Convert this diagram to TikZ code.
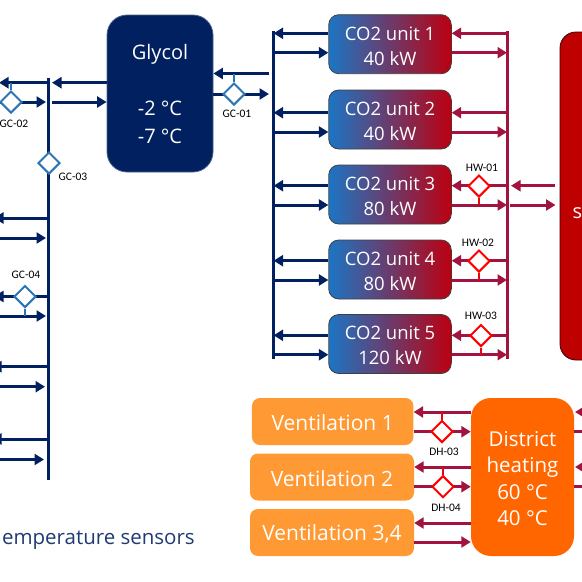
\documentclass[tikz,border=0pt]{standalone}
\usepackage{fontspec}
\setmainfont{Open Sans}
\newfontfamily\smallf{Carlito}
\usetikzlibrary{arrows.meta,shapes.geometric,calc}
\definecolor{navy}{HTML}{002060}
\definecolor{wine}{HTML}{A0143F}
\definecolor{sensorblue}{HTML}{2E75B6}
\definecolor{unitblue}{HTML}{1C75C4}
\definecolor{unitred}{HTML}{BC0010}
\definecolor{vent}{HTML}{FF9933}
\definecolor{dh}{HTML}{FF6600}
\definecolor{store}{HTML}{BE0000}
\definecolor{note}{HTML}{1F3B73}
\newcommand{\dn}[1]{\rule{0pt}{#1pt}}
\tikzset{
  px/.style={x=1pt,y=-1pt},
  box/.style={rectangle,rounded corners=#1,inner sep=0pt,align=center,text=white},
  unitbox/.style={box=10pt,draw=black!75,line width=.8pt,left color=unitblue,right color=unitred,
     minimum width=122.5pt,minimum height=59pt,font=\fontsize{18.5}{25}\selectfont},
  ventbox/.style={box=8pt,fill=vent,minimum height=47pt,font=\fontsize{21}{24}\selectfont},
  navyline/.style={draw=navy,line width=3pt},
  wineline/.style={draw=wine,line width=3pt},
  flow/.style={-{Triangle[length=9.5pt,width=11pt]}},
  sens/.style={diamond,draw=sensorblue,fill=white,line width=2pt,minimum width=22pt,minimum height=22pt,inner sep=0pt},
  hsens/.style={diamond,draw=red,fill=white,line width=2pt,minimum width=22pt,minimum height=22pt,inner sep=0pt},
  stubb/.style={draw=sensorblue,line width=1.2pt},
  stubr/.style={draw=red!70!wine,line width=1.2pt},
  tag/.style={font=\smallf\fontsize{11.5}{12}\selectfont,text=black,inner sep=0pt},
}
\begin{document}
\begin{tikzpicture}[px]
\useasboundingbox (0,0) rectangle (582,582);
\clip (0,0) rectangle (582,582);
% coordinates for free ends
\coordinate (bl) at (48.5,78);
\coordinate (bl2) at (48.5,479.5);
\coordinate (br) at (273,31);
\coordinate (br2) at (273,359);
\coordinate (wr) at (507.7,31);
\coordinate (wr2) at (507.7,359);
% boxes
\node[box=20pt,fill=navy,draw=navy!70!white,line width=.8pt,minimum width=106pt,minimum height=157pt,
   font=\fontsize{20}{28}\selectfont] (glycol) at (160,93.5) {Glycol\\\\-2 °C\\-7 °C};
\node[unitbox] (u1) at (390,44.2) {\dn{17}CO2 unit 1\\40 kW};
\node[unitbox] (u2) at (390,119.5) {\dn{17}CO2 unit 2\\40 kW};
\node[unitbox] (u3) at (390,194.5) {\dn{17}CO2 unit 3\\80 kW};
\node[unitbox] (u4) at (390,269.5) {\dn{17}CO2 unit 4\\80 kW};
\node[unitbox] (u5) at (390,344) {\dn{17}CO2 unit 5\\120 kW};
\node[box=16pt,fill=store,draw=black!70!store,line width=.8pt,minimum width=80pt,minimum height=328pt] (store) at (600,196) {};
\node[text=white,font=\fontsize{20}{24}\selectfont,anchor=base west,inner sep=0pt] (storetxt) at (572.3,218) {s};
\node[ventbox,minimum width=161.5pt] (v1) at (332.7,421.5) {\dn{19}Ventilation 1};
\node[ventbox,minimum width=164pt] (v2) at (332,477) {\dn{19}Ventilation 2};
\node[ventbox,minimum width=164pt] (v3) at (332,532.5) {\dn{19}Ventilation 3,4};
\node[box=20pt,fill=dh,minimum width=103pt,minimum height=158pt,font=\fontsize{20.5}{26.5}\selectfont] (dh) at (522.5,477)
  {\dn{18}District\\heating\\60 °C\\40 °C};
% navy headers
\draw[navyline] (bl) -- (bl2);
\draw[navyline] (br) -- (br2);
\draw[navyline,flow] (glycol.west |- 0,82.7) -- (52,82.7);
\draw[navyline,flow] (48.5,82.7) -- (-1,82.7);
\draw[navyline,flow] (0,102) -- (46,102);
\draw[navyline,flow] (52,102) -- (glycol.west |- 0,102);
\draw[navyline,flow] (48.5,218) -- (-6,218);
\draw[navyline,flow] (0,238) -- (46,238);
\draw[navyline,flow] (48.5,296.5) -- (-6,296.5);
\draw[navyline,flow] (0,316) -- (46,316);
\draw[navyline,flow] (48.5,366.7) -- (-8,366.7);
\draw[navyline,flow] (0,386.7) -- (45,386.7);
\draw[navyline,flow] (48.5,439) -- (-8,439);
\draw[navyline,flow] (0,459.5) -- (44,459.5);
\draw[navyline,flow] (269,73.5) -- (glycol.east |- 0,73.5);
\draw[navyline,flow] (glycol.east |- 0,94) -- (269,94);
% unit rows
\foreach \u/\a/\b in {u1/33.3/52.7,u2/112.7/132,u3/185.7/205,u4/260.7/280,u5/335.3/354.7}{
  \draw[navyline,flow] (\u.west |- 0,\a) -- (273.6,\a);
  \draw[navyline,flow] (273,\b) -- (\u.west |- 0,\b);
  \draw[wineline,flow] (507.7,\a) -- (\u.east |- 0,\a);
  \draw[wineline,flow] (\u.east |- 0,\b) -- (507,\b);
}
\draw[wineline] (wr) -- (wr2);
\draw[wineline,flow] (555,185.7) -- (511,185.7);
\draw[wineline,flow] (510,205) -- (555.5,205);
% ventilation rows
\foreach \v/\a/\b in {v1/412/431.7,v2/467/486.7,v3/523/542}{
  \draw[wineline,flow] (dh.west |- 0,\a) -- (\v.east |- 0,\a);
  \draw[wineline,flow] (\v.east |- 0,\b) -- (dh.west |- 0,\b);
}
\draw[wineline,flow] (590,412) -- (575,412);
\draw[wineline] (dh.east |- 0,431.7) -- (590,431.7);
\draw[wineline,flow] (590,467) -- (575,467);
\draw[wineline] (dh.east |- 0,486.7) -- (590,486.7);
% sensors
\node[sens] (gc1) at (234,94) {};
\node[sens] (gc2) at (11,102) {};
\node[sens] (gc3) at (49,163) {};
\node[sens] (gc4) at (25,296.5) {};
\node[hsens] (hw1) at (479,186) {};
\node[hsens] (hw2) at (479,261) {};
\node[hsens] (hw3) at (481,335.5) {};
\node[hsens] (dh3) at (442,431.5) {};
\node[hsens] (dh4) at (443,486.7) {};
\draw[stubb] (gc1.north) -- (gc1.north |- 0,74);
\draw[stubb] (gc2.north) -- (gc2.north |- 0,83);
\draw[stubb] (gc4.south) -- (gc4.south |- 0,316);
\draw[stubr] (hw1.south) -- (hw1.south |- 0,205);
\draw[stubr] (hw2.south) -- (hw2.south |- 0,280);
\draw[stubr] (hw3.south) -- (hw3.south |- 0,354.7);
\draw[stubr] (dh3.north) -- (dh3.north |- 0,412);
\draw[stubr] (dh4.north) -- (dh4.north |- 0,467);
% tags
\node[tag] (t1) at (237,113.5) {GC-01};
\node[tag] (t2) at (14,123.5) {GC-02};
\node[tag] (t3) at (73,177) {GC-03};
\node[tag] (t4) at (26,275) {GC-04};
\node[tag] (t5) at (482,167.5) {HW-01};
\node[tag] (t6) at (478,243) {HW-02};
\node[tag] (t7) at (481,316) {HW-03};
\node[tag] (t8) at (444,452) {DH-03};
\node[tag] (t9) at (446,508) {DH-04};
\node[anchor=base east,inner sep=0pt,text=note,font=\fontsize{20.5}{22}\selectfont] (legend) at (195,544.5) {emperature sensors};
\end{tikzpicture}
\end{document}
